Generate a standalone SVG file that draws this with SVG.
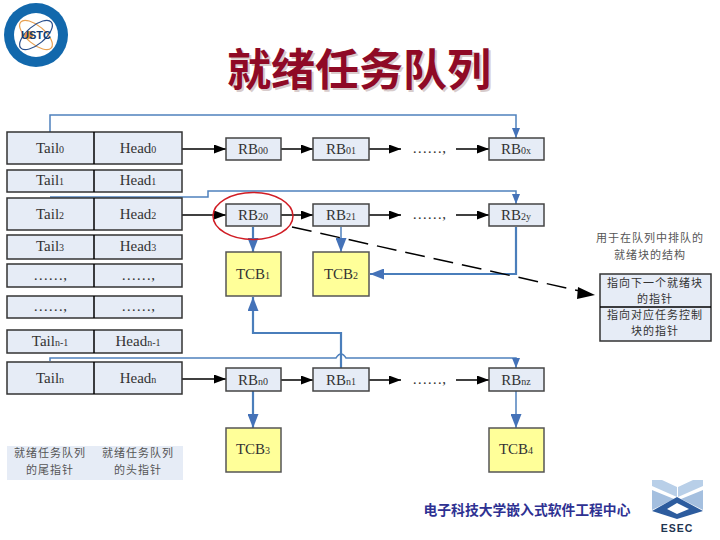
<svg xmlns="http://www.w3.org/2000/svg" width="720" height="540" viewBox="0 0 720 540">
<style>
.cell{fill:#e6ecf6;stroke:#333;stroke-width:1.5}
.rb{fill:#e6ecf6;stroke:#444;stroke-width:1.5}
.tcb{fill:#ffff99;stroke:#555;stroke-width:1.5}
.t{font-family:"Liberation Serif",serif;font-size:15px;fill:#333;text-anchor:middle}
.s{font-size:10px}
.cn{font-family:"Noto Sans CJK SC",sans-serif;font-size:11px;letter-spacing:1px;fill:#555;text-anchor:middle}
.d{fill:#333}
.k{fill:none;stroke:#000;stroke-width:1.5}
.b{fill:none;stroke:#4f81bd;stroke-width:1.5}
.bt{fill:none;stroke:#4a7ebb;stroke-width:2.2}
#title{text-shadow:2px 2px 0 #d8cccc}
</style>
<defs>
<marker id="ak" markerUnits="userSpaceOnUse" markerWidth="12" markerHeight="9" refX="12" refY="4.500" orient="auto"><path d="M0 0L12 4.500L0 9Z" fill="#000"/></marker>
<marker id="ab" markerUnits="userSpaceOnUse" markerWidth="10" markerHeight="8" refX="10" refY="4" orient="auto"><path d="M0 0L10 4L0 8Z" fill="#4472b8"/></marker>
<marker id="ab2" markerUnits="userSpaceOnUse" markerWidth="14" markerHeight="11" refX="14" refY="5.500" orient="auto"><path d="M0 0L14 5.500L0 11Z" fill="#4472b8"/></marker>
</defs>
<g id="logo">
<circle cx="36" cy="35" r="32" fill="#1268ac"/>
<circle cx="36" cy="35" r="22" fill="#fff"/>
<ellipse cx="36" cy="35" rx="20" ry="9" fill="none" stroke="#e8a050" stroke-width="1.2" transform="rotate(40 36 35)"/>
<ellipse cx="36" cy="35" rx="20" ry="9" fill="none" stroke="#2a4f8c" stroke-width="1.2" transform="rotate(-40 36 35)"/>
<circle cx="29" cy="35" r="4" fill="#e8963c"/>
<text x="36" y="39" font-family="Liberation Sans,sans-serif" font-size="11" font-weight="700" fill="#123a70" text-anchor="middle">USTC</text>
</g>
<text id="title" x="359" y="86" font-family="'Noto Sans CJK SC',sans-serif" font-size="44" font-weight="700" fill="#8f0a26" text-anchor="middle">就绪任务队列</text>
<g id="connectors">
<path class="b" d="M50 132V115H516V138" marker-end="url(#ab)"/>
<path class="b" d="M50 197H208V191H516V204" marker-end="url(#ab)"/>
<path class="b" d="M50 361V358H336Q341 350 346 358H516V368" marker-end="url(#ab)"/>
<path class="k" d="M182 149H226" marker-end="url(#ak)"/>
<path class="k" d="M281 149H313" marker-end="url(#ak)"/>
<path class="k" d="M369 149H401" marker-end="url(#ak)"/>
<path class="k" d="M456 149H489" marker-end="url(#ak)"/>
<path class="k" d="M182 215H226" marker-end="url(#ak)"/>
<path class="k" d="M281 215H313" marker-end="url(#ak)"/>
<path class="k" d="M369 215H401" marker-end="url(#ak)"/>
<path class="k" d="M456 215H489" marker-end="url(#ak)"/>
<path class="k" d="M182 379H226" marker-end="url(#ak)"/>
<path class="k" d="M281 380H313" marker-end="url(#ak)"/>
<path class="k" d="M369 380H401" marker-end="url(#ak)"/>
<path class="k" d="M456 380H489" marker-end="url(#ak)"/>
<path class="bt" d="M253 227V252" marker-end="url(#ab2)"/>
<path class="b" d="M341 227V252" marker-end="url(#ab2)"/>
<path class="bt" d="M516 227V274H370" marker-end="url(#ab2)"/>
<path class="bt" d="M341 368V333H253V297" marker-end="url(#ab2)"/>
<path class="bt" d="M253 391V428" marker-end="url(#ab2)"/>
<path class="b" d="M516 391V428" marker-end="url(#ab2)"/>
<path d="M292 227L580 291" fill="none" stroke="#000" stroke-width="1.5" stroke-dasharray="20 9"/>
<path d="M578 287L595 295L577 299Z" fill="#000"/>
</g>
<g id="table">
<rect class="cell" x="7" y="132" width="175" height="32"/><path class="k" d="M94 132V164"/>
<rect class="cell" x="7" y="170" width="175" height="22"/><path class="k" d="M94 170V192"/>
<rect class="cell" x="7" y="198" width="175" height="32"/><path class="k" d="M94 198V230"/>
<rect class="cell" x="7" y="235" width="175" height="24"/><path class="k" d="M94 235V259"/>
<rect class="cell" x="7" y="264" width="175" height="23"/><path class="k" d="M94 264V287"/>
<rect class="cell" x="7" y="296" width="175" height="22"/><path class="k" d="M94 296V318"/>
<rect class="cell" x="7" y="330" width="175" height="23"/><path class="k" d="M94 330V353"/>
<rect class="cell" x="7" y="362" width="175" height="32"/><path class="k" d="M94 362V394"/>
<text class="t" x="50" y="153">Tail<tspan class="s">0</tspan></text><text class="t" x="138" y="153">Head<tspan class="s">0</tspan></text>
<text class="t" x="50" y="185">Tail<tspan class="s">1</tspan></text><text class="t" x="138" y="185">Head<tspan class="s">1</tspan></text>
<text class="t" x="50" y="219">Tail<tspan class="s">2</tspan></text><text class="t" x="138" y="219">Head<tspan class="s">2</tspan></text>
<text class="t" x="50" y="251">Tail<tspan class="s">3</tspan></text><text class="t" x="138" y="251">Head<tspan class="s">3</tspan></text>
<text class="t" x="50" y="280">……,</text><text class="t" x="138" y="280">……,</text>
<text class="t" x="50" y="311">……,</text><text class="t" x="138" y="311">……,</text>
<text class="t" x="50" y="346">Tail<tspan class="s">n-1</tspan></text><text class="t" x="138" y="346">Head<tspan class="s">n-1</tspan></text>
<text class="t" x="50" y="383">Tail<tspan class="s">n</tspan></text><text class="t" x="138" y="383">Head<tspan class="s">n</tspan></text>
</g>
<g id="legend">
<rect x="7" y="446" width="176" height="34" fill="#e6ecf6"/>
<text class="cn" x="50" y="457">就绪任务队列</text><text class="cn" x="50" y="473.500">的尾指针</text>
<text class="cn" x="138" y="457">就绪任务队列</text><text class="cn" x="138" y="473.500">的头指针</text>
</g>
<g id="rb00"><rect class="rb" x="226" y="138" width="55" height="22"/><text class="t" x="253" y="154">RB<tspan class="s">00</tspan></text></g>
<g id="rb01"><rect class="rb" x="313" y="138" width="56" height="22"/><text class="t" x="341" y="154">RB<tspan class="s">01</tspan></text></g>
<g id="rb0x"><rect class="rb" x="489" y="138" width="55" height="22"/><text class="t" x="516" y="154">RB<tspan class="s">0x</tspan></text></g>
<g id="rb20"><rect class="rb" x="226" y="204" width="55" height="22"/><text class="t" x="253" y="220">RB<tspan class="s">20</tspan></text></g>
<g id="rb21"><rect class="rb" x="313" y="204" width="56" height="22"/><text class="t" x="341" y="220">RB<tspan class="s">21</tspan></text></g>
<g id="rb2y"><rect class="rb" x="489" y="204" width="55" height="22"/><text class="t" x="516" y="220">RB<tspan class="s">2y</tspan></text></g>
<g id="rbn0"><rect class="rb" x="226" y="368" width="55" height="23"/><text class="t" x="253" y="385">RB<tspan class="s">n0</tspan></text></g>
<g id="rbn1"><rect class="rb" x="313" y="368" width="56" height="23"/><text class="t" x="341" y="385">RB<tspan class="s">n1</tspan></text></g>
<g id="rbnz"><rect class="rb" x="489" y="368" width="55" height="23"/><text class="t" x="516" y="385">RB<tspan class="s">nz</tspan></text></g>
<g id="dots"><text class="t" x="429" y="153">……,</text><text class="t" x="429" y="219">……,</text><text class="t" x="429" y="384">……,</text></g>
<g id="tcb1"><rect class="tcb" x="226" y="252" width="55" height="44"/><text class="t" x="253" y="279">TCB<tspan class="s">1</tspan></text></g>
<g id="tcb2"><rect class="tcb" x="313" y="252" width="56" height="44"/><text class="t" x="341" y="279">TCB<tspan class="s">2</tspan></text></g>
<g id="tcb3"><rect class="tcb" x="226" y="428" width="55" height="44"/><text class="t" x="253" y="454">TCB<tspan class="s">3</tspan></text></g>
<g id="tcb4"><rect class="tcb" x="489" y="428" width="55" height="44"/><text class="t" x="516" y="454">TCB<tspan class="s">4</tspan></text></g>
<ellipse id="highlight" cx="253" cy="216" rx="40" ry="23.500" fill="none" stroke="#d01c24" stroke-width="1.5"/>
<g id="struct">
<text class="cn" x="650" y="242">用于在队列中排队的</text>
<text class="cn" x="650" y="258.500">就绪块的结构</text>
<rect class="cell" x="600" y="274" width="111" height="67"/><path class="k" d="M600 307H711"/>
<text class="cn d" x="655" y="286.500">指向下一个就绪块</text>
<text class="cn d" x="655" y="302.500">的指针</text>
<text class="cn d" x="655" y="318.500">指向对应任务控制</text>
<text class="cn d" x="655" y="334.500">块的指针</text>
</g>
<text id="footer" x="527" y="515" font-family="'Noto Sans CJK SC',sans-serif" font-size="13.800" font-weight="700" fill="#2e3192" text-anchor="middle">电子科技大学嵌入式软件工程中心</text>
<g id="esec">
<path d="M652 480H662L677 487V497L652 486Z M703 480H693L678 487V497L703 486Z" fill="#b8cfe8"/>
<path d="M652 490L674 499L652 510Z M703 490L681 499L703 510Z" fill="#a4bfdf"/>
<path d="M652 511L677 497L703 511L677 519ZM667 509L677 514L689 509L677 503Z" fill="#2d5c9e" fill-rule="evenodd"/>
<text x="677" y="532" font-family="Liberation Sans,sans-serif" font-size="10.500" font-weight="700" fill="#1f3550" text-anchor="middle" letter-spacing="1">ESEC</text>
</g>
</svg>
